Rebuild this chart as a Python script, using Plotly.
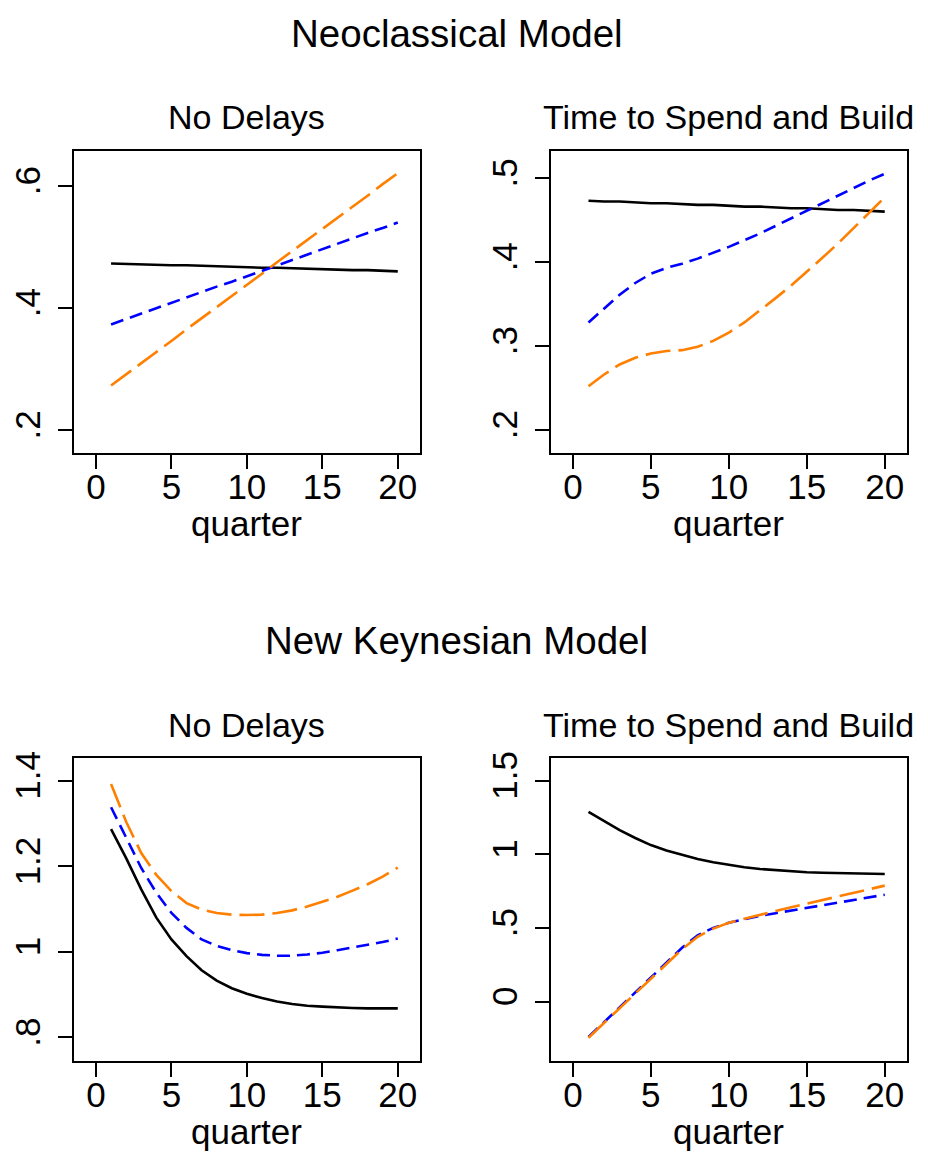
import plotly.graph_objects as go

FONT = "Liberation Sans, Arial, sans-serif"

quarters = list(range(1, 21))

# Neoclassical, No Delays
nc_nd_black = [0.473, 0.472, 0.472, 0.471, 0.470, 0.470, 0.469, 0.468, 0.468, 0.467,
               0.466, 0.466, 0.465, 0.464, 0.464, 0.463, 0.462, 0.462, 0.461, 0.460]
nc_nd_blue = [0.373, 0.382, 0.391, 0.399, 0.408, 0.417, 0.426, 0.435, 0.443, 0.452,
              0.461, 0.470, 0.479, 0.487, 0.496, 0.505, 0.514, 0.523, 0.531, 0.540]
nc_nd_orange = [0.273, 0.291, 0.310, 0.328, 0.346, 0.365, 0.383, 0.401, 0.420, 0.438,
                0.456, 0.475, 0.493, 0.511, 0.529, 0.548, 0.566, 0.584, 0.603, 0.621]

# Neoclassical, Time to Spend and Build
nc_tsb_black = [0.473, 0.472, 0.472, 0.471, 0.470, 0.470, 0.469, 0.468, 0.468, 0.467,
                0.466, 0.466, 0.465, 0.464, 0.464, 0.463, 0.462, 0.462, 0.461, 0.460]
nc_tsb_blue = [0.328, 0.345, 0.361, 0.375, 0.386, 0.393, 0.398, 0.404, 0.411, 0.418,
               0.426, 0.434, 0.443, 0.452, 0.461, 0.470, 0.479, 0.488, 0.497, 0.505]
nc_tsb_orange = [0.252, 0.266, 0.278, 0.286, 0.291, 0.294, 0.295, 0.299, 0.306, 0.316,
                 0.328, 0.342, 0.357, 0.372, 0.388, 0.405, 0.422, 0.440, 0.459, 0.477]

# New Keynesian, No Delays
nk_nd_black = [1.287, 1.219, 1.146, 1.080, 1.029, 0.990, 0.957, 0.933, 0.915, 0.902,
               0.892, 0.884, 0.878, 0.874, 0.872, 0.870, 0.869, 0.868, 0.868, 0.868]
nk_nd_blue = [1.338, 1.266, 1.196, 1.138, 1.091, 1.056, 1.029, 1.014, 1.004, 0.997,
              0.993, 0.991, 0.991, 0.994, 0.998, 1.004, 1.010, 1.016, 1.023, 1.031]
nk_nd_orange = [1.392, 1.304, 1.231, 1.180, 1.142, 1.114, 1.099, 1.091, 1.087, 1.086,
                1.087, 1.091, 1.097, 1.106, 1.117, 1.129, 1.143, 1.158, 1.176, 1.197]

# New Keynesian, Time to Spend and Build
nk_tsb_black = [1.287, 1.222, 1.163, 1.110, 1.062, 1.025, 0.994, 0.968, 0.945, 0.927,
                0.912, 0.900, 0.891, 0.884, 0.878, 0.874, 0.871, 0.869, 0.867, 0.866]
nk_tsb_blue = [-0.240, -0.140, -0.040, 0.060, 0.160, 0.260, 0.365, 0.450, 0.500, 0.535,
               0.560, 0.582, 0.600, 0.618, 0.635, 0.652, 0.670, 0.688, 0.706, 0.725]
nk_tsb_orange = [-0.245, -0.145, -0.045, 0.055, 0.155, 0.255, 0.355, 0.440, 0.495, 0.535,
                 0.563, 0.590, 0.615, 0.640, 0.665, 0.690, 0.714, 0.738, 0.762, 0.787]

x_tickvals = [0, 5, 10, 15, 20]
x_ticktext = ["0", "5", "10", "15", "20"]
y1_tickvals = [0.2, 0.4, 0.6]
y1_ticktext = [".2", ".4", ".6"]
y2_tickvals = [0.2, 0.3, 0.4, 0.5]
y2_ticktext = [".2", ".3", ".4", ".5"]
y3_tickvals = [0.8, 1.0, 1.2, 1.4]
y3_ticktext = [".8", "1", "1.2", "1.4"]
y4_tickvals = [0, 0.5, 1.0, 1.5]
y4_ticktext = ["0", ".5", "1", "1.5"]

main_titles = ["Neoclassical Model", "New Keynesian Model"]
sub_titles = ["No Delays", "Time to Spend and Build"]
x_title = "quarter"

panels = [
    (nc_nd_black, nc_nd_blue, nc_nd_orange),
    (nc_tsb_black, nc_tsb_blue, nc_tsb_orange),
    (nk_nd_black, nk_nd_blue, nk_nd_orange),
    (nk_tsb_black, nk_tsb_blue, nk_tsb_orange),
]

# page body has an 8px margin: offset the figure coordinates so it lines up with the window
OFF = 8
W, H = 928 - 2 * OFF, 1153 - OFF


def px(v):
    return (v - OFF) / W


def py(v):
    return 1 - (v - OFF) / H


xdom = [[px(71), px(418)], [px(550), px(906.7)]]
ydom = [[py(448.3), py(145)], [py(1060), py(756)]]
xranges = [[-1.47, 21.45], [-1.39, 21.41], [-1.47, 21.45], [-1.39, 21.41]]
yranges = [[0.163, 0.657], [0.173, 0.532], [0.746, 1.452], [-0.40, 1.65]]
yticks = [(y1_tickvals, y1_ticktext), (y2_tickvals, y2_ticktext),
          (y3_tickvals, y3_ticktext), (y4_tickvals, y4_ticktext)]

fig = go.Figure()
styles = [
    dict(color="black", width=2.6, dash="solid"),
    dict(color="#0000ff", width=2.6, dash="13px,7px"),
    dict(color="#ff7f00", width=2.6, dash="25px,8px"),
]
for i, series in enumerate(panels):
    ax = "" if i == 0 else str(i + 1)
    for s, st in zip(series, styles):
        fig.add_trace(go.Scatter(x=quarters, y=s, mode="lines", line=st,
                                 xaxis="x" + ax, yaxis="y" + ax, showlegend=False,
                                 hoverinfo="skip"))

axis_common = dict(showgrid=False, zeroline=False, showline=True, linecolor="black",
                   linewidth=2, mirror=True, ticks="outside", ticklen=14, tickwidth=2,
                   tickcolor="black", tickfont=dict(family=FONT, size=35, color="black"))
layout = dict(width=W, height=H, margin=dict(l=0, r=0, t=0, b=0),
              paper_bgcolor="white", plot_bgcolor="white", showlegend=False,
              font=dict(family=FONT, color="black"))
for i in range(4):
    ax = "" if i == 0 else str(i + 1)
    col = i % 2
    row = i // 2
    layout["xaxis" + ax] = dict(axis_common, domain=xdom[col], range=xranges[i],
                                tickvals=x_tickvals, ticktext=x_ticktext,
                                ticklabelstandoff=-12, anchor="y" + ax)
    layout["yaxis" + ax] = dict(axis_common, domain=ydom[row], range=yranges[i],
                                tickvals=yticks[i][0], ticktext=yticks[i][1],
                                tickangle=-90, ticklabelstandoff=4, anchor="x" + ax)

annotations = []
main_y = [27, 637]
sub_y = [111, 722]
xlab_y = [520, 1131]
for row in range(2):
    annotations.append(dict(text=main_titles[row], x=px(455), y=py(main_y[row]),
                            xref="paper", yref="paper", xanchor="center", yanchor="middle",
                            showarrow=False, font=dict(family=FONT, size=38.5, color="black")))
    for col in range(2):
        cx = (xdom[col][0] + xdom[col][1]) / 2
        annotations.append(dict(text=sub_titles[col], x=cx, y=py(sub_y[row]),
                                xref="paper", yref="paper", xanchor="center", yanchor="middle",
                                showarrow=False, font=dict(family=FONT, size=34, color="black")))
        annotations.append(dict(text=x_title, x=cx, y=py(xlab_y[row]),
                                xref="paper", yref="paper", xanchor="center", yanchor="middle",
                                showarrow=False, font=dict(family=FONT, size=35, color="black")))
layout["annotations"] = annotations
fig.update_layout(**layout)
fig.write_html("out.html")
